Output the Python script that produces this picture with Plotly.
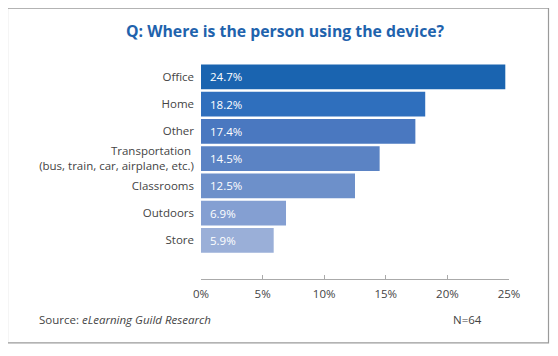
import plotly.graph_objects as go

categories = ["Office", "Home", "Other",
              "Transportation <br>(bus, train, car, airplane, etc.)",
              "Classrooms", "Outdoors", "Store"]
values = [24.7, 18.2, 17.4, 14.5, 12.5, 6.9, 5.9]
value_labels = ["24.7%", "18.2%", "17.4%", "14.5%", "12.5%", "6.9%", "5.9%"]
bar_colors = ["#1a64b0", "#2f6fbd", "#4a78c0", "#5b83c4", "#6d90ca", "#849fd2", "#9aafd8"]
tick_vals = [0, 5, 10, 15, 20, 25]
tick_text = ["0%", "5%", "10%", "15%", "20%", "25%"]

OFF = 8  # page body margin
W, H = 558 - OFF, 356 - OFF
L, R = 201 - OFF, 509 - OFF
T, B = 61.5 - OFF, 279 - OFF
pw, ph = R - L, B - T

def px(x):
    return (x - OFF - L) / pw

def py(y):
    return (B - (y - OFF)) / ph

fig = go.Figure()
fig.add_trace(go.Bar(
    x=values, y=categories, orientation="h",
    marker=dict(color=bar_colors, line=dict(width=0)),
    width=0.91, hoverinfo="skip",
))

for c, lab in zip(categories, value_labels):
    fig.add_annotation(x=0, y=c, xref="x", yref="y", text=lab, showarrow=False,
                       xanchor="left", xshift=7,
                       font=dict(family="Open Sans, Arial", size=11.5, color="white"))

# border box
fig.add_shape(type="rect", xref="paper", yref="paper",
              x0=px(7.5), x1=px(548.5), y0=py(343), y1=py(7.5),
              line=dict(color="#9a9a9a", width=1.2), layer="below")

fig.add_annotation(x=px(285), y=py(30), xref="paper", yref="paper",
                   text="<b>Q: Where is the person using the device?</b>", showarrow=False,
                   xanchor="center", yanchor="middle",
                   font=dict(family="Open Sans, Arial", size=15.8, color="#1f63ad"))
fig.add_annotation(x=px(37), y=py(320), xref="paper", yref="paper",
                   text="Source: <i>eLearning Guild Research</i>", showarrow=False,
                   xanchor="left", yanchor="middle",
                   font=dict(family="Open Sans, Arial", size=11.5, color="#444444"))
fig.add_annotation(x=px(484), y=py(320), xref="paper", yref="paper",
                   text="N=64", showarrow=False, xanchor="right", yanchor="middle",
                   font=dict(family="Open Sans, Arial", size=11.5, color="#444444"))

fig.update_layout(
    width=W, height=H,
    margin=dict(l=L, r=W - R, t=T, b=H - B, pad=0, autoexpand=False),
    paper_bgcolor="white", plot_bgcolor="white",
    showlegend=False,
    xaxis=dict(range=[0, 25], tickvals=tick_vals, ticktext=tick_text,
               showgrid=False, zeroline=False, showline=True, linecolor="#aaaaaa",
               linewidth=1, ticks="inside", ticklen=4, tickcolor="#aaaaaa",
               tickfont=dict(family="Open Sans, Arial", size=11.5, color="#444444"),
               ticklabelstandoff=4, fixedrange=True, automargin=False),
    yaxis=dict(categoryorder="array", categoryarray=categories,
               range=[7.42, -0.55], showgrid=False, zeroline=False, showline=False,
               ticks="", ticklabelstandoff=6, automargin=False,
               tickfont=dict(family="Open Sans, Arial", size=11.5, color="#444444"),
               fixedrange=True),
)

fig.write_html("out.html")
